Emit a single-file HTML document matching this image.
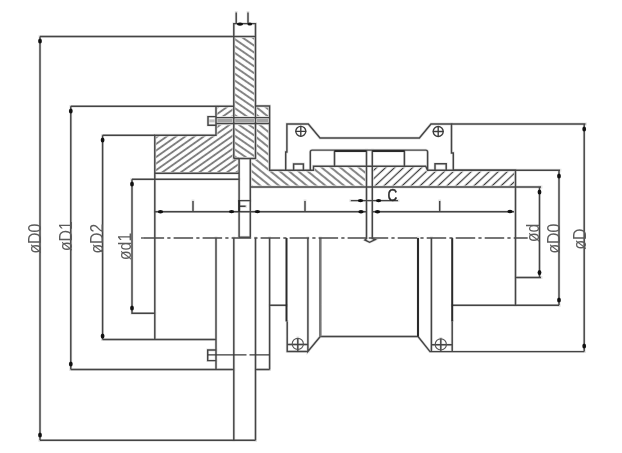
<!DOCTYPE html>
<html><head><meta charset="utf-8">
<style>
html,body{margin:0;padding:0;background:#fff;}
body{width:622px;height:453px;overflow:hidden;}
svg{display:block;}
text{font-family:"Liberation Sans",sans-serif;fill:#5a5a5a;}
</style></head>
<body>
<svg width="622" height="453" viewBox="0 0 622 453">
<defs>
<pattern id="hf" patternUnits="userSpaceOnUse" width="5.338" height="10" patternTransform="translate(161,173.2) rotate(54.80) translate(-2.669,0)"><line x1="2.669" y1="-1" x2="2.669" y2="11" stroke="#e0e0e0" stroke-width="2.3"/><line x1="2.669" y1="-1" x2="2.669" y2="11" stroke="#383838" stroke-width="1.05"/></pattern>
<pattern id="hp" patternUnits="userSpaceOnUse" width="5.680" height="10" patternTransform="translate(234.3,142.3) rotate(-55.40) translate(-2.840,0)"><line x1="2.840" y1="-1" x2="2.840" y2="11" stroke="#e0e0e0" stroke-width="2.3"/><line x1="2.840" y1="-1" x2="2.840" y2="11" stroke="#383838" stroke-width="1.05"/></pattern>
<pattern id="hb" patternUnits="userSpaceOnUse" width="5.853" height="10" patternTransform="translate(269.3,170.3) rotate(-51.00) translate(-2.926,0)"><line x1="2.926" y1="-1" x2="2.926" y2="11" stroke="#e0e0e0" stroke-width="2.3"/><line x1="2.926" y1="-1" x2="2.926" y2="11" stroke="#383838" stroke-width="1.05"/></pattern>
<pattern id="hf2" patternUnits="userSpaceOnUse" width="6.138" height="10" patternTransform="translate(383,186.8) rotate(47.00) translate(-3.069,0)"><line x1="3.069" y1="-1" x2="3.069" y2="11" stroke="#e0e0e0" stroke-width="2.3"/><line x1="3.069" y1="-1" x2="3.069" y2="11" stroke="#383838" stroke-width="1.05"/></pattern>
</defs>
<rect width="622" height="453" fill="#fff"/>

<g stroke="none">
<rect x="233.8" y="36.5" width="21.5" height="122" fill="url(#hp)"/>
<path d="M216,106 H233.8 V158.5 H239.1 V173.3 H154.8 V135.2 H216 Z" fill="url(#hf)"/>
<path d="M255.5,106 H269.6 V170.2 H313.5 V166.2 H366.5 V187 H250.3 V158.5 H255.5 Z" fill="url(#hb)"/>
<path d="M372.3,166.2 H425.7 L427.6,170.2 H515 V187 H372.3 Z" fill="url(#hf2)"/>
<rect x="216.2" y="116.6" width="53.4" height="8.6" fill="#fff"/>
<rect x="216.2" y="118.3" width="53.4" height="4.6" fill="#a4a4a4"/>
<rect x="208.6" y="119.4" width="7" height="3" fill="#c0c0c0"/>
</g>

<g fill="none" stroke="#e2e2e2" stroke-width="2.8" stroke-linecap="square">
<path d="M233.8,158.5 V23.6 H255.5 V158.5 H233.8"/>
<path d="M233.8,36.5 H255.5"/>
<path d="M216,106.2 H233.8 M216,106.2 V135.2 H154.8 V339.5 M154.8,173.3 H239.1 V237.2 M239.1,158.5 H233.8 M239.1,158.5 V173.3"/>
<path d="M132,179.3 H239.1"/>
<path d="M255.5,106 H269.6 V170.2 H313.5 V166.2 H425.7 L427.6,170.2 H515.5 V305.3"/>
<path d="M250.3,158.5 V237.2 M250.3,187 H541 M239.1,237.2 H250.3"/>
<path d="M285.7,170.2 V152 H286.9 V124 H308.3 L320,138 H419.4 L431,124 H451.5 V152.9 H453.3 V170.2"/>
<path d="M310.3,170.2 V152 Q310.3,150.1 312.2,150.1 H425.7 Q427.6,150.1 427.6,152 V170.2"/>
<path d="M334.5,151 V166.2 M366.2,151 H334.5 M372.3,151 H404.4 V166.2"/>
<path d="M293.6,170.2 V163.9 H303.4 V170.2 M435,170.2 V163.8 H446.2 V170.2"/>
<path d="M366.5,150.1 V238.6 L364.9,240 L369.6,242.3 L375.2,239.6 L372.3,238.6 V150.1"/>
<path d="M216.2,116.6 H208 V125.2 H216.2"/>
<path d="M216.2,117.6 H269.6 M216.2,123.5 H269.6"/>
<path d="M102.6,339.5 H216 M216,238 V369.5 M233.8,238 V440.3 M255.5,238 V440.3 M269.6,238 V369.5"/>
<path d="M70.8,369.5 H233.8 M255.5,369.5 H269.6 M40,440.3 H255.5"/>
<path d="M216,350 H207.7 V360.6 H216"/>
<path d="M269.6,305.3 H286.5 M287.2,321.5 V351.4 H308.3 M287.2,344.4 H307.9 M307.9,238 V351.4 L320.3,336.5 V238 M320.3,336.5 H418 V238 M418,336.5 L430,351.6 H584.2 M431.4,238 V351.6 M431.4,344.8 H452.2 M452.2,321.5 V351.6 M452.2,305.3 H559 M515.5,277.5 H541"/>
<path d="M40,36.5 H233.8 M40,36.5 V440.3"/>
<path d="M70.8,106.3 H216 M70.8,106.3 V369.5"/>
<path d="M102.6,135.3 V339.5 M102.6,135.3 H154.8"/>
<path d="M132,179.3 V313.3 H154.8"/>
<path d="M451.5,124 H585.5 M584.2,124 V351.6"/>
<path d="M453.3,170.2 H560 M559,170.2 V305.3"/>
<path d="M539.5,187 V277.5"/>
<path d="M154.8,211.7 H366.2 M372.3,211.7 H514"/>
<path d="M193,200.9 V211.7 M305,200.9 V211.7 M439.7,200.9 V211.7"/>
<path d="M350.8,200.6 H398"/>
<path d="M236.2,12.4 V23.6 M248,12.4 V23.6"/>
<path d="M239.1,200.6 H250.4 M239.5,206.3 H245.6"/>
<path d="M297.8,338 V351.4 M440.8,338.5 V351.6"/>
</g>
<g fill="none" stroke="#444" stroke-width="1.45">
<path d="M233.8,158.5 V23.6 H255.5 V158.5 H233.8"/>
<path d="M233.8,36.5 H255.5"/>
<path d="M216,106.2 H233.8 M216,106.2 V135.2 H154.8 V339.5 M154.8,173.3 H239.1 V237.2 M239.1,158.5 H233.8 M239.1,158.5 V173.3"/>
<path d="M132,179.3 H239.1"/>
<path d="M255.5,106 H269.6 V170.2 H313.5 V166.2 H425.7 L427.6,170.2 H515.5 V305.3"/>
<path d="M250.3,158.5 V237.2 M250.3,187 H541 M239.1,237.2 H250.3"/>
<path d="M285.7,170.2 V152 H286.9 V124 H308.3 L320,138 H419.4 L431,124 H451.5 V152.9 H453.3 V170.2"/>
<path d="M310.3,170.2 V152 Q310.3,150.1 312.2,150.1 H425.7 Q427.6,150.1 427.6,152 V170.2"/>
<path d="M334.5,151 V166.2 M366.2,151 H334.5 M372.3,151 H404.4 V166.2"/>
<path d="M293.6,170.2 V163.9 H303.4 V170.2 M435,170.2 V163.8 H446.2 V170.2"/>
<path d="M366.5,150.1 V238.6 L364.9,240 L369.6,242.3 L375.2,239.6 L372.3,238.6 V150.1"/>
<path d="M216.2,116.6 H208 V125.2 H216.2"/>
<path d="M216.2,117.6 H269.6 M216.2,123.5 H269.6"/>
<path d="M102.6,339.5 H216 M216,238 V369.5 M233.8,238 V440.3 M255.5,238 V440.3 M269.6,238 V369.5"/>
<path d="M70.8,369.5 H233.8 M255.5,369.5 H269.6 M40,440.3 H255.5"/>
<path d="M216,350 H207.7 V360.6 H216"/>
<path d="M269.6,305.3 H286.5 M287.2,321.5 V351.4 H308.3 M287.2,344.4 H307.9 M307.9,238 V351.4 L320.3,336.5 V238 M320.3,336.5 H418 V238 M418,336.5 L430,351.6 H584.2 M431.4,238 V351.6 M431.4,344.8 H452.2 M452.2,321.5 V351.6 M452.2,305.3 H559 M515.5,277.5 H541"/>
<path d="M40,36.5 H233.8 M40,36.5 V440.3"/>
<path d="M70.8,106.3 H216 M70.8,106.3 V369.5"/>
<path d="M102.6,135.3 V339.5 M102.6,135.3 H154.8"/>
<path d="M132,179.3 V313.3 H154.8"/>
<path d="M451.5,124 H585.5 M584.2,124 V351.6"/>
<path d="M453.3,170.2 H560 M559,170.2 V305.3"/>
<path d="M539.5,187 V277.5"/>
<path d="M154.8,211.7 H366.2 M372.3,211.7 H514"/>
<path d="M193,200.9 V211.7 M305,200.9 V211.7 M439.7,200.9 V211.7"/>
<path d="M350.8,200.6 H398"/>
<path d="M236.2,12.4 V23.6 M248,12.4 V23.6"/>
<path d="M239.1,200.6 H250.4 M239.5,206.3 H245.6"/>
<path d="M297.8,338 V351.4 M440.8,338.5 V351.6"/>
</g>
<g fill="none" stroke="#555" stroke-width="1.15">
<circle cx="297.8" cy="343.9" r="5.6"/>
<circle cx="440.8" cy="344.4" r="5.6"/>
</g>
<g fill="none" stroke="#3c3c3c" stroke-width="1.35">
<circle cx="300.8" cy="131.3" r="5"/>
<circle cx="438.2" cy="131.5" r="5"/>
<path d="M295.3,131.3 H306.3 M300.8,125.8 V136.8 M432.7,131.5 H443.7 M438.2,126 V137"/>
</g>

<g fill="none" stroke="#2a2a2a" stroke-width="2">
<path d="M286.5,238 V321.5 M452.2,238 V321.5 M418,238 V336.5"/>
<path d="M334.5,151 H366.2 M372.3,151 H404.4"/>
<path d="M239.2,200 V212"/>
</g>
<g fill="none" stroke="#777" stroke-width="2.4">
<path d="M320.3,238 V336.5"/>
</g>
<path d="M208,354.8 H246.5 M249.5,354.8 H269.6" stroke="#3a3a3a" stroke-width="1.2"/>
<path d="M141,238 H145" stroke="#4a4a4a" stroke-width="1.35"/>
<path d="M144.6,238 H368.7" stroke="#4a4a4a" stroke-width="1.35" stroke-dasharray="19.5 3.2 3.2 3.1"/>
<path d="M368.7,238 H527.7" stroke="#4a4a4a" stroke-width="1.35" stroke-dasharray="19.5 3.2 3.2 3.1"/>
<g fill="#111">
<ellipse cx="40" cy="41" rx="1.9" ry="2.6"/>
<ellipse cx="40" cy="435" rx="1.9" ry="2.6"/>
<ellipse cx="70.8" cy="111" rx="1.9" ry="2.6"/>
<ellipse cx="70.8" cy="364" rx="1.9" ry="2.6"/>
<ellipse cx="102.6" cy="140" rx="1.9" ry="2.6"/>
<ellipse cx="102.6" cy="336" rx="1.9" ry="2.6"/>
<ellipse cx="132" cy="184" rx="1.9" ry="2.6"/>
<ellipse cx="132" cy="308" rx="1.9" ry="2.6"/>
<ellipse cx="584.2" cy="129" rx="1.9" ry="2.6"/>
<ellipse cx="584.2" cy="346" rx="1.9" ry="2.6"/>
<ellipse cx="559" cy="176" rx="1.9" ry="2.6"/>
<ellipse cx="559" cy="300" rx="1.9" ry="2.6"/>
<ellipse cx="539.5" cy="192" rx="1.9" ry="2.6"/>
<ellipse cx="539.5" cy="272.5" rx="1.9" ry="2.6"/>
<ellipse cx="160.5" cy="211.7" rx="2.7" ry="1.7"/>
<ellipse cx="231.6" cy="211.6" rx="2.7" ry="1.7"/>
<ellipse cx="257.4" cy="211.6" rx="2.7" ry="1.7"/>
<ellipse cx="361" cy="211.7" rx="2.7" ry="1.7"/>
<ellipse cx="377.5" cy="211.7" rx="2.7" ry="1.7"/>
<ellipse cx="510" cy="211.5" rx="2.7" ry="1.7"/>
<ellipse cx="360.5" cy="200.6" rx="2.7" ry="1.7"/>
<ellipse cx="378.6" cy="200.6" rx="2.7" ry="1.7"/>
<ellipse cx="240" cy="24.1" rx="3" ry="1.6"/>
<ellipse cx="249.8" cy="24.1" rx="2.4" ry="1.5"/>
</g>
<g font-size="19" style="opacity:0.995">
<text transform="translate(41,253.5) rotate(-90) scale(0.83,1)">øD0</text>
<text transform="translate(72,251) rotate(-90) scale(0.83,1)">øD1</text>
<text transform="translate(103,253.5) rotate(-90) scale(0.83,1)">øD2</text>
<text transform="translate(131.3,260) rotate(-90) scale(0.83,1)">ød1</text>
<text transform="translate(539.3,242) rotate(-90) scale(0.83,1)">ød</text>
<text transform="translate(560.3,253.5) rotate(-90) scale(0.83,1)">øD0</text>
<text transform="translate(585.8,249.5) rotate(-90) scale(0.83,1)">øD</text>
<text transform="translate(387.6,200.9) scale(0.85,1)" font-size="15.8" style="fill:#2a2a2a;stroke:#2a2a2a;stroke-width:0.5">C</text>
</g>

</svg>
</body></html>
